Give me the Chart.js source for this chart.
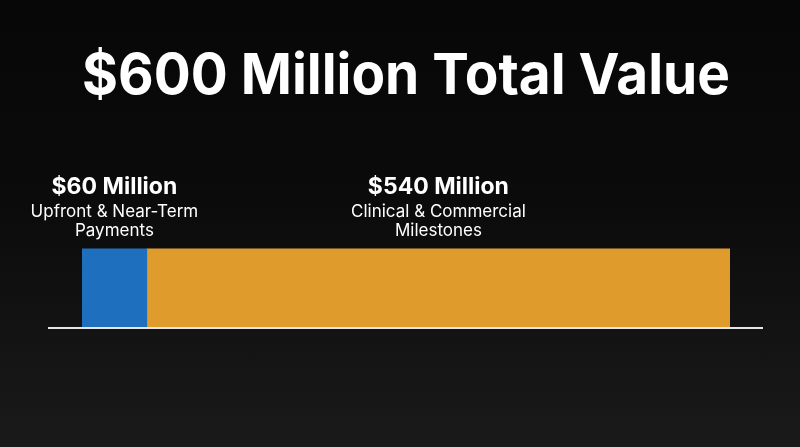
<!DOCTYPE html>
<html>
<head>
<meta charset="utf-8">
<script src="https://cdn.jsdelivr.net/npm/chart.js@4.4.1/dist/chart.umd.min.js"></script>
<style>
  html, body { margin: 0; padding: 0; }
  body {
    width: 800px; height: 447px; overflow: hidden;
    background: linear-gradient(to bottom, #070707 0%, #0b0b0b 45%, #1a1a1a 100%);
  }
  #wrap { position: relative; width: 800px; height: 447px; }
</style>
</head>
<body>
<div id="wrap"><canvas id="dealChart"></canvas></div>
<script>
  const categorias = ['Deal'];
  const montos = [60, 540];
  const etiquetas = ['$60 Million', '$540 Million'];
  const descripciones = [
    ['Upfront & Near-Term', 'Payments'],
    ['Clinical & Commercial', 'Milestones']
  ];
  const colores = ['#1f6fbf', '#e09b2d'];
  const titulo = '$600 Million Total Value';

  const fuente = "Inter, 'Noto Sans', sans-serif";

  // etiquetas encima de cada tramo y la línea base
  const etiquetasPlugin = {
    id: 'etiquetas',
    afterDatasetsDraw(chart) {
      const ctx = chart.ctx;
      const area = chart.chartArea;
      ctx.save();
      ctx.strokeStyle = '#e6e6e6';
      ctx.lineWidth = 2;
      ctx.beginPath();
      ctx.moveTo(area.left - 34, area.bottom + 1);
      ctx.lineTo(area.right + 33, area.bottom + 1);
      ctx.stroke();

      ctx.fillStyle = '#ffffff';
      ctx.textAlign = 'center';
      ctx.textBaseline = 'alphabetic';
      chart.data.datasets.forEach((ds, i) => {
        const bar = chart.getDatasetMeta(i).data[0];
        const cx = (bar.x + bar.base) / 2;
        const top = bar.y - bar.height / 2;
        ctx.font = `700 23px ${fuente}`;
        ctx.fillText(etiquetas[i], cx, top - 54);
        ctx.font = `400 17px ${fuente}`;
        descripciones[i].forEach((linea, j) => {
          ctx.fillText(linea, cx, top - 31 + j * 19);
        });
      });
      ctx.restore();
    }
  };

  document.addEventListener('DOMContentLoaded', () => {
    const ctx = document.getElementById('dealChart').getContext('2d');
    new Chart(ctx, {
      type: 'bar',
      data: {
        labels: categorias,
        datasets: montos.map((v, i) => ({
          label: etiquetas[i],
          data: [v],
          backgroundColor: colores[i],
          borderWidth: 0,
          barPercentage: 1,
          categoryPercentage: 1
        }))
      },
      options: {
        indexAxis: 'y',
        responsive: true,
        maintainAspectRatio: false,
        animation: false,
        layout: { padding: { left: 82, right: 70, top: 0, bottom: 120 } },
        scales: {
          x: { stacked: true, display: false, min: 0, max: 600 },
          y: { stacked: true, display: false }
        },
        plugins: {
          legend: { display: false },
          tooltip: { enabled: false },
          title: {
            display: true,
            text: titulo,
            color: '#ffffff',
            font: { family: fuente, size: 57, weight: '700', lineHeight: 1.2 },
            padding: { top: 43, bottom: 137 }
          }
        }
      },
      plugins: [etiquetasPlugin]
    });
  });
</script>
</body>
</html>
